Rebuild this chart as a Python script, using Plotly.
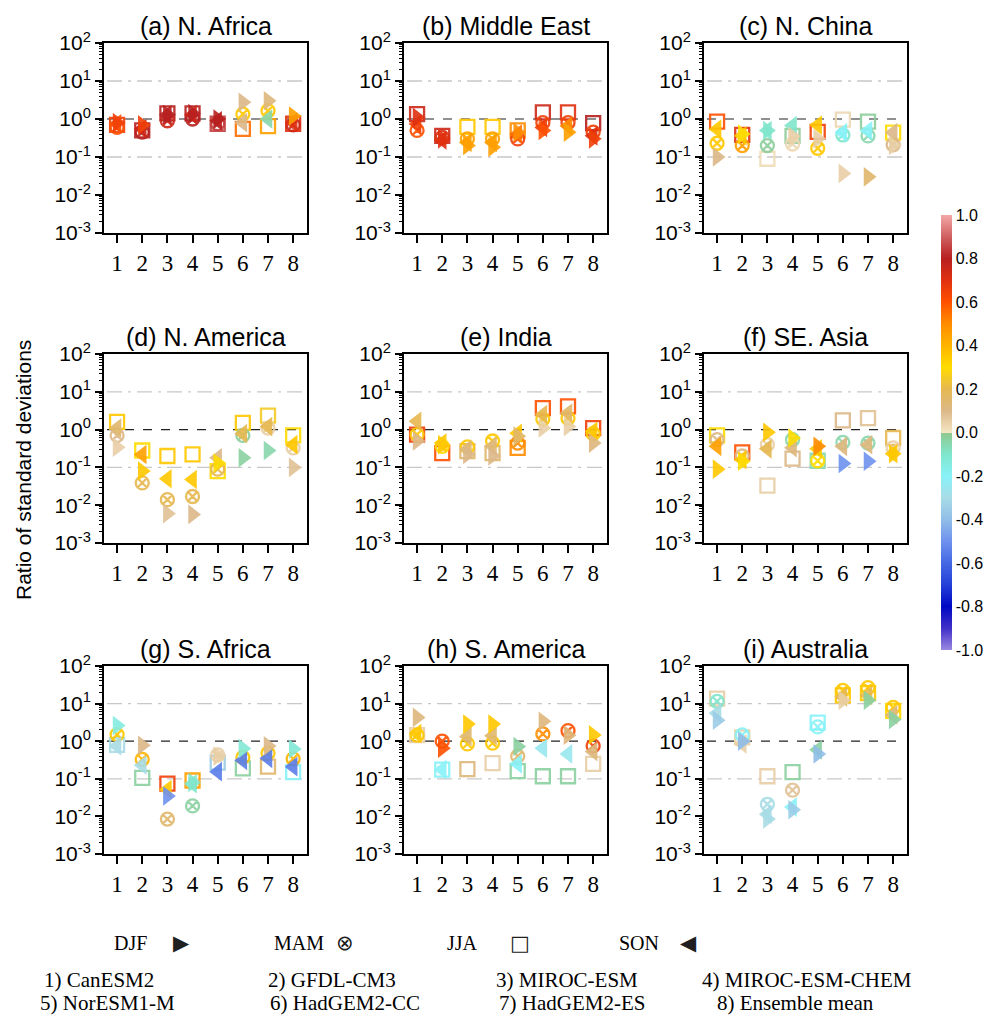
import plotly.graph_objects as go

regions = ["(a) N. Africa", "(b) Middle East", "(c) N. China",
           "(d) N. America", "(e) India", "(f) SE. Asia",
           "(g) S. Africa", "(h) S. America", "(i) Australia"]
models = [1, 2, 3, 4, 5, 6, 7, 8]
model_labels = ["1) CanESM2", "2) GFDL-CM3", "3) MIROC-ESM", "4) MIROC-ESM-CHEM",
                "5) NorESM1-M", "6) HadGEM2-CC", "7) HadGEM2-ES", "8) Ensemble mean"]
seasons = ["DJF", "MAM", "JJA", "SON"]

# ratio of standard deviations, one row per region, one value per model
ratio_djf = [
    [0.8, 0.7, 1.3, 1.4, 1.0, 2.75, 3.0, 1.2],
    [1.1, 0.3, 0.2, 0.18, 0.44, 0.5, 0.45, 0.3],
    [0.1, 0.4, 0.5, 0.35, 0.3, 0.037, 0.03, 0.2],
    [0.34, 0.08, 0.006, 0.0057, 0.13, 0.18, 0.28, 0.1],
    [0.5, 0.4, 0.22, 0.2, 0.67, 1.1, 1.2, 0.44],
    [0.09, 0.145, 0.85, 0.6, 0.36, 0.127, 0.145, 0.23],
    [2.6, 0.78, 0.035, 0.08, 0.4, 0.64, 0.75, 0.62],
    [4.3, 0.65, 2.85, 2.85, 0.72, 3.4, 1.45, 1.47],
    [3.6, 1.0, 0.0085, 0.015, 0.46, 12.3, 12.3, 3.8],
]
corr_djf = [
    [0.65, 0.65, 0.8, 0.8, 0.8, 0.1, 0.12, 0.45],
    [0.7, 0.7, 0.45, 0.45, 0.5, 0.6, 0.45, 0.65],
    [0.1, 0.3, -0.1, 0.05, 0.05, 0.05, 0.15, 0.05],
    [0.05, 0.35, 0.08, 0.1, 0.3, -0.03, -0.05, 0.08],
    [0.1, 0.35, 0.1, 0.1, 0.15, 0.05, 0.05, 0.12],
    [0.35, 0.3, 0.35, 0.3, 0.5, -0.5, -0.5, 0.35],
    [-0.15, 0.1, -0.5, -0.1, 0.05, -0.12, 0.1, -0.12],
    [0.12, 0.6, 0.35, 0.35, -0.03, 0.12, 0.12, 0.35],
    [-0.35, -0.4, -0.3, -0.35, -0.4, 0.05, -0.03, -0.03],
]
ratio_mam = [
    [0.6, 0.45, 0.9, 1.0, 0.75, 1.35, 1.65, 0.7],
    [0.5, 0.33, 0.3, 0.3, 0.3, 0.8, 0.8, 0.45],
    [0.23, 0.2, 0.2, 0.22, 0.17, 0.38, 0.36, 0.21],
    [0.7, 0.039, 0.014, 0.017, 0.09, 0.7, 1.1, 0.33],
    [0.74, 0.36, 0.35, 0.5, 0.44, 1.9, 2.0, 0.78],
    [0.54, 0.2, 0.4, 0.54, 0.15, 0.46, 0.44, 0.33],
    [1.5, 0.33, 0.0085, 0.019, 0.43, 0.37, 0.48, 0.34],
    [1.45, 1.0, 0.85, 0.89, 0.4, 1.56, 1.9, 0.75],
    [11.5, 1.47, 0.021, 0.05, 2.4, 22.5, 26.5, 7.9],
]
corr_mam = [
    [0.6, 0.8, 0.75, 0.8, 0.85, 0.35, 0.35, 0.75],
    [0.6, 0.7, 0.45, 0.45, 0.65, 0.65, 0.65, 0.65],
    [0.35, 0.45, -0.02, 0.03, 0.35, -0.1, -0.05, 0.1],
    [0.1, 0.2, 0.2, 0.2, 0.2, -0.02, 0.05, 0.05],
    [0.35, 0.3, 0.35, 0.35, 0.5, 0.35, 0.35, 0.35],
    [0.1, 0.1, 0.05, -0.05, 0.3, -0.05, -0.05, 0.05],
    [0.35, 0.4, 0.15, -0.03, 0.05, 0.35, 0.35, 0.4],
    [0.35, 0.6, 0.35, 0.35, 0.15, 0.5, 0.6, 0.65],
    [-0.1, -0.2, -0.3, 0.08, -0.2, 0.35, 0.35, 0.35],
]
ratio_jja = [
    [0.7, 0.5, 1.4, 1.4, 0.75, 0.55, 0.65, 0.75],
    [1.35, 0.36, 0.62, 0.62, 0.5, 1.5, 1.5, 0.78],
    [0.85, 0.38, 0.09, 0.36, 0.46, 0.96, 0.85, 0.44],
    [1.6, 0.28, 0.2, 0.22, 0.08, 1.5, 2.35, 0.7],
    [0.74, 0.24, 0.27, 0.24, 0.33, 3.7, 4.1, 1.1],
    [0.7, 0.25, 0.033, 0.17, 0.15, 1.76, 2.0, 0.6],
    [0.8, 0.106, 0.074, 0.09, 0.27, 0.19, 0.21, 0.15],
    [1.45, 0.176, 0.18, 0.26, 0.16, 0.117, 0.117, 0.25],
    [13.5, 1.27, 0.117, 0.15, 3.1, 16.6, 19.0, 6.4],
]
corr_jja = [
    [0.65, 0.8, 0.8, 0.8, 0.85, 0.55, 0.45, 0.7],
    [0.75, 0.75, 0.35, 0.35, 0.5, 0.75, 0.7, 0.8],
    [0.6, 0.7, 0.02, -0.02, 0.65, 0.03, -0.02, 0.3],
    [0.35, 0.3, 0.35, 0.35, 0.3, 0.35, 0.25, 0.3],
    [0.65, 0.6, 0.15, 0.15, 0.5, 0.6, 0.6, 0.65],
    [0.3, 0.6, 0.05, 0.1, -0.05, 0.1, 0.08, 0.2],
    [-0.3, -0.03, 0.65, 0.45, -0.35, -0.03, 0.15, -0.2],
    [0.05, -0.2, 0.12, 0.05, -0.03, -0.03, -0.03, 0.05],
    [0.05, 0.05, 0.05, -0.03, -0.2, 0.35, 0.35, 0.3],
]
ratio_son = [
    [0.75, 0.55, 1.3, 1.3, 0.9, 0.8, 1.0, 0.8],
    [0.74, 0.28, 0.24, 0.24, 0.4, 0.6, 0.65, 0.36],
    [0.54, 0.36, 0.5, 0.67, 0.69, 0.44, 0.49, 0.44],
    [1.1, 0.22, 0.05, 0.048, 0.18, 0.78, 1.2, 0.4],
    [1.66, 0.44, 0.3, 0.36, 0.8, 2.5, 2.75, 0.9],
    [0.36, 0.16, 0.31, 0.33, 0.31, 0.36, 0.4, 0.23],
    [0.75, 0.23, 0.052, 0.074, 0.155, 0.31, 0.35, 0.21],
    [1.6, 0.176, 1.33, 1.4, 0.25, 0.65, 0.46, 0.53],
    [5.5, 0.85, 0.0114, 0.0177, 0.59, 15.0, 16.5, 5.0],
]
corr_son = [
    [0.6, 0.75, 0.8, 0.75, 0.8, 0.1, -0.05, 0.7],
    [0.65, 0.7, 0.45, 0.45, 0.55, 0.65, 0.5, 0.7],
    [0.35, 0.35, -0.1, -0.1, 0.35, -0.2, -0.2, 0.1],
    [0.15, 0.45, 0.35, 0.35, 0.1, 0.2, 0.2, 0.35],
    [0.2, 0.35, 0.12, 0.12, 0.35, 0.2, 0.15, 0.35],
    [0.45, 0.35, 0.2, 0.12, 0.35, 0.12, 0.12, 0.35],
    [-0.3, -0.3, 0.35, -0.1, -0.55, -0.55, -0.55, -0.55],
    [0.35, -0.2, 0.15, 0.15, -0.2, -0.25, -0.25, 0.12],
    [-0.3, 0.05, -0.3, -0.2, -0.03, 0.2, 0.2, 0.12],
]

cbar_ticks = [1.0, 0.8, 0.6, 0.4, 0.2, 0.0, -0.2, -0.4, -0.6, -0.8, -1.0]
ytick_vals = [1e-3, 1e-2, 1e-1, 1e0, 1e1, 1e2]
ytick_text = ["10<sup>-3</sup>", "10<sup>-2</sup>", "10<sup>-1</sup>",
              "10<sup>0</sup>", "10<sup>1</sup>", "10<sup>2</sup>"]

# ---------------- styling ----------------
OFF = 8                      # page body margin of the browser
W, H = 995 - OFF, 1015 - OFF  # figure size so that the page fits the window


def px(x):
    return (x - OFF) / W


def py(y):
    return 1 - (y - OFF) / H


stops = [(-1.0, "#9A88E0"), (-0.9, "#4030C8"), (-0.8, "#0008C4"), (-0.7, "#2440D8"),
         (-0.6, "#4468E4"), (-0.5, "#6E92EE"), (-0.4, "#90BEE8"), (-0.3, "#A8DCE6"),
         (-0.2, "#88F2F8"), (-0.1, "#80E6CC"), (-0.002, "#90C890"), (0.0, "#F4E6C4"),
         (0.1, "#DCB888"), (0.2, "#E6B850"), (0.3, "#FFDC00"), (0.4, "#FFB400"),
         (0.5, "#FF8C00"), (0.6, "#FF5000"), (0.7, "#E03010"), (0.8, "#B82020"),
         (0.9, "#D06060"), (1.0, "#F4A8A8")]
colorscale = [[(v + 1) / 2, c] for v, c in stops]

col_px = [(104, 307), (404, 607), (704, 907)]
row_px = [(43, 233), (354, 543), (666, 854)]
SANS = "Liberation Sans, Arial, sans-serif"
SERIF = "Liberation Serif, Times New Roman, serif"

symbols = {"DJF": "triangle-right", "MAM": "circle-x-open", "JJA": "square-open", "SON": "triangle-left"}
sizes = {"DJF": 17, "MAM": 13, "JJA": 14, "SON": 17}
season_data = {"DJF": (ratio_djf, corr_djf), "MAM": (ratio_mam, corr_mam),
               "JJA": (ratio_jja, corr_jja), "SON": (ratio_son, corr_son)}

minor_vals = [k * 10.0 ** e for e in range(-3, 2) for k in range(2, 10)]

fig = go.Figure()
layout = dict(template="none", width=W, height=H, autosize=False,
              margin=dict(l=0, r=0, t=0, b=0, pad=0),
              paper_bgcolor="white", plot_bgcolor="white", showlegend=False,
              coloraxis=dict(cmin=-1, cmax=1, colorscale=colorscale,
                             colorbar=dict(x=px(941), xanchor="left", xpad=0, ypad=0,
                                           y=py(215), yanchor="top",
                                           len=435 / H, lenmode="fraction", thickness=11,
                                           outlinewidth=0, ticks="", ticklabelposition="outside",
                                           tickvals=cbar_ticks,
                                           ticktext=["%.1f" % v for v in cbar_ticks],
                                           tickfont=dict(family=SANS, size=16, color="black"))),
              annotations=[])

for i, name in enumerate(regions):
    r, c = divmod(i, 3)
    k = i + 1
    xa = "x" if k == 1 else f"x{k}"
    ya = "y" if k == 1 else f"y{k}"
    x0, x1 = col_px[c]
    y0, y1 = row_px[r]
    layout["xaxis" if k == 1 else f"xaxis{k}"] = dict(
        domain=[px(x0), px(x1)], anchor=ya, range=[0.48, 8.55], automargin=False,
        tickmode="array", tickvals=models, ticktext=[str(m) for m in models],
        ticks="outside", ticklen=8, tickwidth=1.5, tickcolor="black",
        showline=True, mirror=True, linewidth=2, linecolor="black",
        showgrid=False, zeroline=False,
        tickfont=dict(family=SERIF, size=23, color="black"))
    layout["yaxis" if k == 1 else f"yaxis{k}"] = dict(
        domain=[py(y1), py(y0)], anchor=xa, type="log", range=[-3, 2],
        automargin=False,
        tickmode="array", tickvals=ytick_vals, ticktext=ytick_text,
        ticks="outside", ticklen=7, tickwidth=1.5, tickcolor="black",
        minor=dict(tickmode="array", tickvals=minor_vals, ticks="outside", ticklen=3,
                   tickwidth=1, tickcolor="black", showgrid=False),
        showline=True, mirror=True, linewidth=2, linecolor="black",
        showgrid=False, zeroline=False,
        tickfont=dict(family=SANS, size=21, color="black"))

    # reference lines
    for yv, col, dash, wd in [(10, "#C8C8C8", "longdashdot", 1.3),
                              (0.1, "#C8C8C8", "longdashdot", 1.3),
                              (1, "#222222", "dash", 1.2)]:
        fig.add_trace(go.Scatter(x=[0.6, 8.4], y=[yv, yv], mode="lines", xaxis=xa, yaxis=ya,
                                 line=dict(color=col, dash=dash, width=wd), hoverinfo="skip"))

    for s in ["JJA", "MAM", "SON", "DJF"]:
        rat, cor = season_data[s]
        is_open = s in ("MAM", "JJA")
        fig.add_trace(go.Scatter(
            x=models, y=rat[i], mode="markers", xaxis=xa, yaxis=ya, name=s,
            opacity=0.9,
            marker=dict(symbol=symbols[s], size=sizes[s], color=cor[i], coloraxis="coloraxis",
                        line=dict(width=2.3 if is_open else 0))))

    layout["annotations"].append(dict(
        text=name, x=px((x0 + x1) / 2), y=py(y0 - 17), xref="paper", yref="paper",
        xanchor="center", yanchor="middle", showarrow=False,
        font=dict(family=SANS, size=25, color="black")))

# y title
layout["annotations"].append(dict(
    text="Ratio of standard deviations", x=px(24), y=py(470), xref="paper", yref="paper",
    textangle=-90, showarrow=False, xanchor="center", yanchor="middle",
    font=dict(family=SANS, size=21, color="black")))

# season legend
glyphs = {"DJF": "\u25B6", "MAM": "\u2297", "JJA": "\u25A1", "SON": "\u25C0"}
leg_text_x = [112, 272, 445, 617]
leg_sym_x = [181, 345, 520, 688]
for s, tx, sx in zip(seasons, leg_text_x, leg_sym_x):
    layout["annotations"].append(dict(text=s, x=px(tx), y=py(943), xref="paper", yref="paper",
                                      xanchor="left", yanchor="middle", showarrow=False,
                                      font=dict(family=SERIF, size=20, color="black")))
    layout["annotations"].append(dict(text=glyphs[s], x=px(sx), y=py(943), xref="paper",
                                      yref="paper", xanchor="center", yanchor="middle",
                                      showarrow=False,
                                      font=dict(family="DejaVu Sans", size=21, color="#202020")))

# model list
name_x = [42, 266, 494, 700, 38, 268, 497, 715]
for j, lab in enumerate(model_labels):
    yy = 980 if j < 4 else 1003
    layout["annotations"].append(dict(text=lab, x=px(name_x[j]), y=py(yy), xref="paper",
                                      yref="paper", xanchor="left", yanchor="middle",
                                      showarrow=False,
                                      font=dict(family=SERIF, size=21, color="black")))

fig.update_layout(**layout)
fig.write_html("out.html")
